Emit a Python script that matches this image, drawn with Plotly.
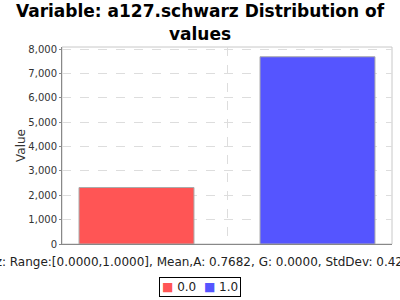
import plotly.graph_objects as go

series_names = ["0.0", "1.0"]
series_x = [0, 1]
series_values = [2318, 7682]
series_colors = ["#FF5555", "#5555FF"]
y_ticks = [0, 1000, 2000, 3000, 4000, 5000, 6000, 7000, 8000]
title_text = "Variable: a127.schwarz Distribution of<br>values"
x_title = "a127.schwarz: Range:[0.0000,1.0000], Mean,A: 0.7682, G: 0.0000, StdDev: 0.4220"
y_title = "Value"

fig = go.Figure()
for name, xv, yv, col in zip(series_names, series_x, series_values, series_colors):
    fig.add_trace(go.Bar(x=[xv], y=[yv], name=name, width=0.635, showlegend=False,
                         marker=dict(color=col, line=dict(color="#AAAAAA", width=1))))

fig.add_shape(type="rect", xref="paper", yref="paper", x0=0, x1=1, y0=0, y1=1,
              line=dict(color="#C8C8C8", width=1), layer="below")

# x-axis label (wider than the canvas, as in the original)
fig.add_annotation(text=x_title, xref="paper", yref="paper", x=(420 - 62) / 330, xanchor="right",
                   y=-0.0914, yanchor="middle", showarrow=False,
                   font=dict(family="DejaVu Sans", size=12, color="#222222"))

# legend box
legend_text = "  ".join(
    f'<span style="color:{c}">■</span> {n}' for n, c in zip(series_names, series_colors))
fig.add_annotation(text=legend_text, xref="paper", yref="paper",
                   x=(200 - 62) / 330, xanchor="center", y=(244 - 287) / 197, yanchor="middle",
                   showarrow=False, bordercolor="black", borderwidth=1, borderpad=2,
                   bgcolor="white", font=dict(family="DejaVu Sans", size=12, color="#222222"))

fig.update_layout(
    width=400, height=300,
    margin=dict(l=62, r=8, t=47, b=56),
    paper_bgcolor="white", plot_bgcolor="white",
    barmode="overlay",
    font=dict(family="DejaVu Sans", color="#444444"),
    title=dict(text=title_text, x=0.5, xref="container", xanchor="center",
               y=0.942, yref="container", yanchor="top",
               font=dict(family="DejaVu Sans", size=17, color="black", weight="bold")),
    showlegend=False,
)
fig.update_xaxes(range=[-0.4116, 1.4116], tickvals=[0.5], ticktext=[""],
                 showgrid=True, gridcolor="#DDDDDD", griddash="dash", gridwidth=1,
                 showline=True, linecolor="#888888", linewidth=1, ticks="", zeroline=False)
fig.update_yaxes(range=[0, 8082], tickvals=y_ticks, tickformat=",d",
                 showgrid=True, gridcolor="#DDDDDD", griddash="dash", gridwidth=1,
                 showline=True, linecolor="#888888", linewidth=1, ticks="outside",
                 ticklen=2, tickcolor="#888888", zeroline=False,
                 tickfont=dict(size=10, color="#333333"),
                 title=dict(text=y_title, standoff=0, font=dict(size=12, color="#333333")))

fig.write_html("out.html")
